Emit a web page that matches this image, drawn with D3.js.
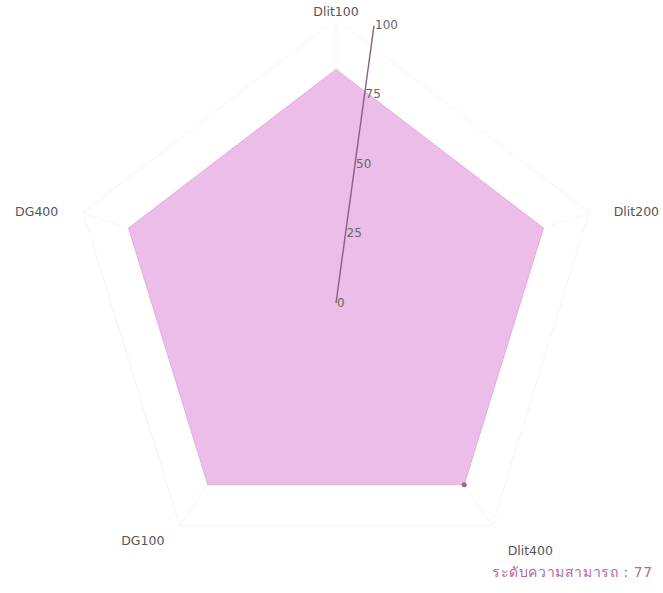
<!DOCTYPE html>
<html>
<head>
<meta charset="utf-8">
<script src="https://cdn.jsdelivr.net/npm/d3@7"></script>
<style>
  body { margin: 0; background: #fff; }
  svg { display: block; font-family: "DejaVu Sans", "Noto Sans", sans-serif; }
</style>
</head>
<body>
<script>
// axis names, clockwise from the top
const labels = ["Dlit100", "Dlit200", "Dlit400", "DG100", "DG400"];
const values = [82, 82, 82, 82, 82];
const ticks = [0, 25, 50, 75, 100];
const tooltipName = "ระดับความสามารถ";
const tooltipValue = 77;
const hoverIndex = 2; // Dlit400 point is the hovered one

const width = 663, height = 593;
const cx = 336, cy = 299;
const squeezeX = 0.95; // the picture is a bit narrower than tall
const axisTilt = 7.8 * Math.PI / 180;

const svg = d3.select("body").append("svg")
  .attr("width", width)
  .attr("height", height);

const r = d3.scaleLinear().domain([0, 100]).range([0, 280]);
const angle = d3.scaleLinear().domain([0, labels.length]).range([0, 2 * Math.PI]);

function pt(i, v) {
  const a = angle(i);
  return [cx + Math.sin(a) * r(v) * squeezeX, cy - Math.cos(a) * r(v)];
}

const line = d3.line().curve(d3.curveLinearClosed);

// very faint grid
ticks.filter(t => t > 0).forEach(t => {
  svg.append("path")
    .attr("d", line(labels.map((d, i) => pt(i, t))))
    .attr("fill", "none")
    .attr("stroke", "#f4f4f4")
    .attr("stroke-width", 1);
});
svg.selectAll(".spoke")
  .data(labels)
  .enter()
  .append("line")
  .attr("class", "spoke")
  .attr("x1", cx).attr("y1", cy)
  .attr("x2", (d, i) => pt(i, 100)[0])
  .attr("y2", (d, i) => pt(i, 100)[1])
  .attr("stroke", "#f5f5f5");

// data area
svg.append("path")
  .attr("d", line(values.map((v, i) => pt(i, v))))
  .attr("fill", "#ecbde9")
  .attr("stroke", "#e2aede")
  .attr("stroke-width", 1);

// hovered point
svg.append("circle")
  .attr("cx", pt(hoverIndex, values[hoverIndex])[0])
  .attr("cy", pt(hoverIndex, values[hoverIndex])[1])
  .attr("r", 2.5)
  .attr("fill", "#8a6d88");

// tilted value axis
const axisPt = v => [cx + Math.sin(axisTilt) * r(v), cy + 4 - Math.cos(axisTilt) * r(v)];
svg.append("line")
  .attr("x1", axisPt(0)[0]).attr("y1", axisPt(0)[1])
  .attr("x2", axisPt(100)[0]).attr("y2", axisPt(100)[1])
  .attr("stroke", "#8a5f86")
  .attr("stroke-width", 1.4);

svg.selectAll(".tick")
  .data(ticks)
  .enter()
  .append("text")
  .attr("class", "tick")
  .attr("x", d => axisPt(d)[0] + 1)
  .attr("y", d => axisPt(d)[1])
  .attr("dominant-baseline", "middle")
  .attr("font-size", 12)
  .attr("fill", "#666")
  .text(d => d);

// point labels
const labelR = 292;
svg.selectAll(".plabel")
  .data(labels)
  .enter()
  .append("text")
  .attr("class", "plabel")
  .attr("x", (d, i) => cx + Math.sin(angle(i)) * labelR)
  .attr("y", (d, i) => {
    const y = cy - Math.cos(angle(i)) * labelR;
    if (i === 0) return y + 9;
    if (Math.cos(angle(i)) > 0) return y + 4;
    return y + (Math.sin(angle(i)) > 0 ? 10 : 0);
  })
  .attr("text-anchor", (d, i) => {
    const s = Math.sin(angle(i));
    if (Math.abs(s) < 0.01) return "middle";
    return s > 0 ? "start" : "end";
  })
  .attr("dominant-baseline", (d, i) => {
    if (i === 0) return "auto";
    return Math.cos(angle(i)) > 0 ? "middle" : "hanging";
  })
  .attr("font-size", 12.5)
  .attr("fill", "#555")
  .text(d => d);

// tooltip text
svg.append("text")
  .attr("x", 492)
  .attr("y", 573)
  .attr("dominant-baseline", "middle")
  .attr("font-size", 14)
  .attr("letter-spacing", 0.6)
  .attr("fill", "#b5679f")
  .text(tooltipName + " : " + tooltipValue);
</script>
</body>
</html>
